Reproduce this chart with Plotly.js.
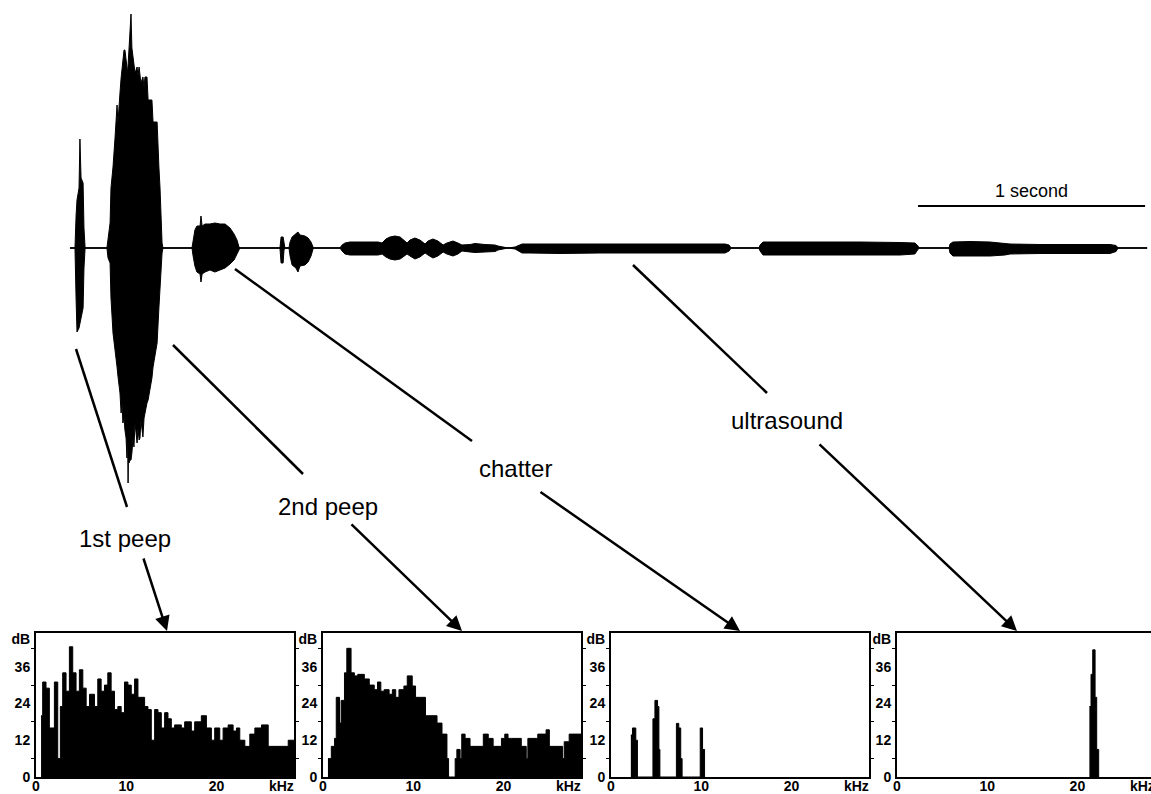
<!DOCTYPE html>
<html>
<head>
<meta charset="utf-8">
<script src="https://cdn.plot.ly/plotly-3.0.1.min.js"></script>
<style>html,body{margin:0;padding:0;background:#fff;}#chart{width:1151px;height:794px;}</style>
</head>
<body>
<div id="chart"></div>
<script>
// ---- Waveform envelope (time in seconds, amplitude in arbitrary units) ----
const waveTime = [0.009,0.031,0.036,0.040,0.049,0.053,0.058,0.067,0.071,0.076,
  0.173,0.178,0.187,0.191,0.200,0.209,0.218,0.222,0.227,0.231,0.236,0.240,0.244,0.249,0.253,0.258,0.262,0.265,0.267,0.269,0.271,0.276,0.280,0.284,0.289,0.293,0.298,0.307,0.311,0.316,0.320,0.324,0.333,0.338,0.342,0.351,0.356,0.373,0.378,0.396,0.404,0.409,0.418,0.422,
  0.551,0.556,0.564,0.573,0.587,0.591,0.596,0.609,0.631,0.653,0.676,0.698,0.720,0.738,0.751,0.760,0.764,
  0.942,0.947,0.956,0.960,0.964,0.982,0.987,0.996,1.013,1.022,1.031,1.053,1.067,1.080,1.089,1.093,
  1.209,1.218,1.231,1.253,1.298,1.342,1.378,1.396,1.413,1.431,1.453,1.476,1.493,1.507,1.520,1.542,1.564,1.587,1.600,1.622,1.644,1.667,1.684,1.711,1.733,1.751,1.787,1.809,1.853,1.898,1.911,1.942,1.956,
  1.987,2.000,2.018,2.053,2.187,2.364,2.587,2.809,2.920,2.938,2.947,
  3.071,3.076,3.089,3.164,3.253,3.387,3.520,3.698,3.764,3.778,3.782,
  3.916,3.920,3.933,4.009,4.098,4.164,4.187,4.320,4.498,4.631,4.658,4.667,4.796];
const waveUpper = [0,0,33,48,60,109,70,65,20,0,
  0,10,25,60,81,110,143,125,150,155,170,181,190,198,198,185,183,175,183,190,200,210,234,200,190,183,175,181,172,181,171,165,171,160,171,171,148,148,126,126,81,60,5,0,
  0,8,18,22,22,32,22,24,24,25,24,24,20,14,8,1,0,
  0,11,11,2,0,0,6,11,14,16,13,12,10,6,1,0,
  0,3,5,6,6,6,6,5,9,11,12,11,8,5,8,10,8,4,7,9,7,3,5,7,5,3,3.5,4.5,3.5,3,2,1,0,
  1,2,4,4,4,4.5,4.5,4,4,3,0,
  0,3,6,6,6.5,6,6,5.5,5,2,0,
  0,4,6,6.5,6,5,4,3.5,3.5,3.5,2.5,0,0];
const waveLower = [0,0,-52,-84,-80,-75,-72,-60,-20,0,
  0,-10,-15,-50,-85,-100,-119,-128,-135,-145,-165,-155,-175,-170,-182,-190,-210,-185,-237,-200,-215,-212,-212,-205,-190,-199,-175,-195,-180,-192,-190,-172,-189,-170,-165,-155,-152,-130,-119,-95,-60,-35,-5,0,
  0,-8,-18,-24,-26,-34,-26,-24,-22,-24,-22,-20,-16,-12,-6,-1,0,
  0,-15,-15,-2,0,0,-8,-17,-20,-24,-18,-17,-14,-8,-1,0,
  0,-3,-6,-7,-7,-7,-7,-6,-9,-11,-12,-11,-8,-6,-8,-11,-9,-5,-7,-10,-8,-4,-6,-8,-6,-3,-4,-4.5,-4,-3.5,-2,-1,0,
  -1,-3,-5,-5,-5.5,-5,-5,-5,-5,-3,0,
  0,-3,-7,-7,-7,-7.5,-7,-7,-6,-2,0,
  0,-5,-8,-8,-8,-7,-6,-5.5,-5.5,-5.5,-3.5,0,0];
const baselineTime = [0.009, 4.796];
const baselineAmp = [0, 0];

// ---- Spectra (kHz, dB), stepped ----
const peep1Freq = [0.56,0.74,1.11,1.48,2.04,2.41,2.70,2.96,3.33,3.70,4.07,4.44,4.81,5.19,5.56,5.93,6.48,6.85,7.22,7.59,7.96,8.33,8.70,9.07,9.44,9.81,10.19,10.56,10.93,11.30,11.67,12.04,12.41,12.78,13.15,13.52,13.89,14.26,14.63,15.00,15.37,16.11,16.48,17.22,17.59,18.33,18.89,19.44,19.81,20.37,20.74,21.30,21.85,22.22,22.59,23.15,23.70,24.26,25.00,25.74,27.96,28.6];
const peep1dB = [20,31,29,16,31,6,23,34,28,42.5,34,28,35,29,23,27,23,32,28,30,34,28,22,23,21,31,30,27,32,26,26,23,22,12,22,21,16,21,19,16,17,16,18,15,18,20,16,12,16,12,16,17,15,16,12,10,14,16,17,10,12,12];

const peep2Freq = [0.55,0.92,1.28,1.47,1.83,2.01,2.38,2.64,3.11,3.48,3.85,4.58,5.13,5.68,6.04,6.41,6.78,7.33,7.69,8.06,8.42,8.97,9.34,9.89,10.26,10.81,11.36,11.72,12.64,13.19,13.74,13.92,14.65,14.84,15.20,15.38,15.75,16.30,17.77,18.32,18.86,19.78,20.15,20.51,20.88,21.98,22.53,22.71,23.81,24.73,25.09,25.64,26.56,26.74,27.29,28.6];
const peep2dB = [6,10,12.6,26,17.6,25,34,42,34,33,33.5,32,30,28.5,31,28,28.5,27,28.5,26,28.5,29.7,33,29.7,26,26,20,20,17.6,14,6,0,6,9,6,14,12.6,10,14,12.6,10,12.6,14,12.6,12.6,10,6,12.6,14,15.4,10,10,6,11.5,14,14];

const chatterFreq = [2.20,2.38,2.75,2.93,4.65,4.87,5.16,5.31,5.42,7.25,7.51,7.73,7.88,9.89,10.15,10.37];
const chatterdB = [13.7,16,12,0,19,25,23,9,0,17.5,16,6,0,16,9,0];

const ultraFreq = [21.33,21.51,21.70,21.96,22.14,22.36];
const ultradB = [23,33.5,41.5,26,9,0];

// tick labels
const dbTickVals = [0,12,24,36,45];
const dbTickText = ['0','12','24','36','dB'];
const kHzTickVals = [0,10,20,27.2];
const kHzTickText = ['0','10','20','kHz'];

const labelFont = {family:'Liberation Sans, Arial, sans-serif', size:24, color:'#000'};
const tickFont = {family:'Liberation Sans, Arial, sans-serif', size:14, color:'#000', weight:'bold'};

function specTrace(x, y, n) {
  return {x:x, y:y, type:'scatter', mode:'lines', line:{shape:'hv', color:'#000', width:1},
    fill:'tozeroy', fillcolor:'#000', xaxis:'x'+n, yaxis:'y'+n, hoverinfo:'skip'};
}

const data = [
  {x:baselineTime, y:baselineAmp, type:'scatter', mode:'lines', line:{color:'#000', width:1.5}, xaxis:'x', yaxis:'y', hoverinfo:'skip'},
  {x:waveTime, y:waveUpper, type:'scatter', mode:'lines', line:{color:'#000', width:1}, xaxis:'x', yaxis:'y', hoverinfo:'skip'},
  {x:waveTime, y:waveLower, type:'scatter', mode:'lines', line:{color:'#000', width:1}, fill:'tonexty', fillcolor:'#000', xaxis:'x', yaxis:'y', hoverinfo:'skip'},
  specTrace(peep1Freq, peep1dB, 2),
  specTrace(peep2Freq, peep2dB, 3),
  specTrace(chatterFreq, chatterdB, 4),
  specTrace(ultraFreq, ultradB, 5)
];

const W = 1151, H = 794;
function px(x){return x/W;}
function py(y){return 1 - y/H;}

function specX(d0, d1, maxK, n) {
  return {domain:[px(d0), d1>=W?1:px(d1)], range:[0, maxK], anchor:'y'+n, showgrid:false, zeroline:false,
    showline:true, linecolor:'#000', linewidth:2, mirror:true, ticks:'', tickmode:'array',
    tickvals:kHzTickVals, ticktext:kHzTickText, tickfont:tickFont, ticklabelstandoff:-5,
    ticklabeloverflow:'allow', fixedrange:true};
}
function specY(n) {
  return {domain:[py(777), py(633)], range:[0, 47], anchor:'x'+n, showgrid:false, zeroline:false,
    showline:true, linecolor:'#000', linewidth:2, mirror:'allticks', ticks:'', tickmode:'array',
    tickvals:dbTickVals, ticktext:dbTickText, tickfont:tickFont, ticklabelstandoff:1,
    minor:{tickvals:[6,18,30,42], ticks:'outside', ticklen:3, tickcolor:'#000', tickwidth:1}, fixedrange:true};
}

const lineSeg = (x0,y0,x1,y1) => ({type:'line', xref:'paper', yref:'paper', x0:px(x0), y0:py(y0), x1:px(x1), y1:py(y1), line:{color:'#000', width:2.5}});
const arrow = (tx,ty,sx,sy) => ({xref:'paper', yref:'paper', x:px(tx), y:py(ty), ax:sx-tx, ay:sy-ty, axref:'pixel', ayref:'pixel',
  text:'', showarrow:true, arrowhead:2, arrowsize:1.2, arrowwidth:2.5, arrowcolor:'#000', standoff:0});
const label = (t,cx,cy) => ({xref:'paper', yref:'paper', x:px(cx), y:py(cy), text:t, showarrow:false, font:labelFont, xanchor:'center', yanchor:'middle'});

const layout = {
  width:W, height:H, margin:{l:0,r:0,t:0,b:0}, paper_bgcolor:'#fff', plot_bgcolor:'rgba(0,0,0,0)', showlegend:false,
  xaxis:{domain:[px(68), px(1148)], range:[0, 4.8], visible:false, fixedrange:true},
  yaxis:{domain:[py(483), py(13)], range:[-235, 235], visible:false, fixedrange:true},
  xaxis2:specX(36, 294, 28.6, 2), yaxis2:specY(2),
  xaxis3:specX(323, 581, 28.6, 3), yaxis3:specY(3),
  xaxis4:specX(611, 869, 28.6, 4), yaxis4:specY(4),
  xaxis5:specX(897, 1151, 28.16, 5), yaxis5:specY(5),
  shapes:[
    {type:'line', xref:'x', yref:'y', x0:3.778, x1:4.787, y0:42, y1:42, line:{color:'#000', width:2}},
    lineSeg(76,349,127,507),
    lineSeg(173,345,303,474),
    lineSeg(235,269,472,441),
    lineSeg(633,265,767,393)
  ],
  annotations:[
    {xref:'x', yref:'y', x:4.28, y:57, text:'1 second', showarrow:false, font:{family:'Liberation Sans, Arial, sans-serif', size:18, color:'#000'}},
    label('1st peep',125,538),
    label('2nd peep',328,506),
    label('chatter',515,469),
    label('ultrasound',787,421),
    arrow(167,631,143,557),
    arrow(462,631,350,523),
    arrow(740,631,539,491),
    arrow(1017,631,818,443)
  ]
};

Plotly.newPlot('chart', data, layout, {staticPlot:true, displayModeBar:false});
</script>
</body>
</html>
